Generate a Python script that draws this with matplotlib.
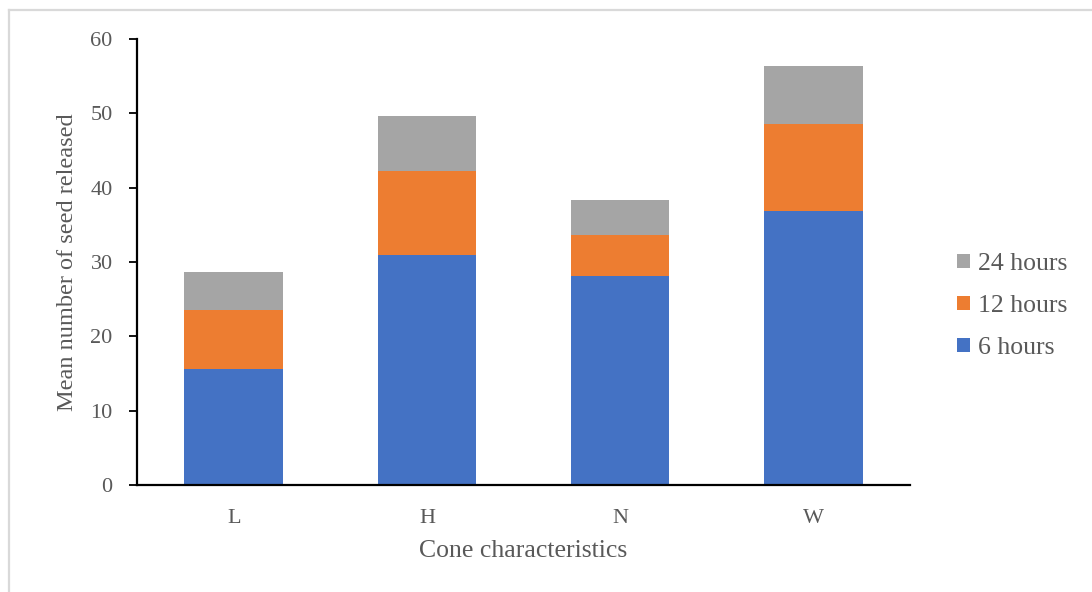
import matplotlib
matplotlib.use("Agg")
import matplotlib.pyplot as plt
from matplotlib.lines import Line2D

# Data: mean seed release per cone class, stacked by exposure time
categories = ["L", "H", "N", "W"]
hours_6 = [15.6, 30.9, 28.1, 36.9]
hours_12 = [7.9, 11.4, 5.5, 11.6]
hours_24 = [5.1, 7.4, 4.8, 7.9]
y_ticks = [0, 10, 20, 30, 40, 50, 60]

blue = "#4472C4"
orange = "#ED7D31"
gray = "#A5A5A5"
text_col = "#595959"

plt.rcParams["font.family"] = ["Liberation Serif", "DejaVu Serif"]

fig = plt.figure(figsize=(10.92, 5.92), dpi=100)
ax = fig.add_axes([137 / 1092, 1 - 485 / 592, 773 / 1092, 446 / 592])

x = list(range(len(categories)))
width = 0.51
bottom_12 = hours_6
bottom_24 = [a + b for a, b in zip(hours_6, hours_12)]

b6 = ax.bar(x, hours_6, width, color=blue, label="6 hours", zorder=2)
b12 = ax.bar(x, hours_12, width, bottom=bottom_12, color=orange, label="12 hours", zorder=2)
b24 = ax.bar(x, hours_24, width, bottom=bottom_24, color=gray, label="24 hours", zorder=2)

ax.set_xlim(-0.5, len(categories) - 0.5)
ax.set_ylim(0, 60)
ax.set_yticks(y_ticks)
ax.set_xticks(x)
ax.set_xticklabels(categories)

for side in ["top", "right"]:
    ax.spines[side].set_visible(False)
for side in ["left", "bottom"]:
    ax.spines[side].set_color("black")
    ax.spines[side].set_linewidth(1.6)

ax.tick_params(axis="y", direction="out", length=5.5, width=1.3, color="black",
               pad=12, labelsize=16, labelcolor=text_col)
ax.tick_params(axis="x", length=0, pad=17.5, labelsize=16, labelcolor=text_col)

ax.set_xlabel("Cone characteristics", fontsize=18.5, color=text_col)
ax.set_ylabel("Mean number of seed released", fontsize=17.5, color=text_col)
ax.xaxis.set_label_coords(0.5, -0.124)
ax.yaxis.set_label_coords(-0.076, 0.5)

# Legend listed top-down as 24, 12, 6 hours
leg = fig.legend([b24, b12, b6], ["24 hours", "12 hours", "6 hours"],
                 loc="center left", bbox_to_anchor=(957 / 1092, 1 - 306 / 592),
                 frameon=False, fontsize=18.5, handlelength=0.5, handleheight=0.5,
                 handletextpad=0.3, labelspacing=0.78, borderpad=0, borderaxespad=0)
for t in leg.get_texts():
    t.set_color(text_col)

# Light outer frame on the top and left edges
frame_col = "#D9D9D9"
fig.add_artist(Line2D([9 / 1092, 1], [1 - 9.5 / 592, 1 - 9.5 / 592],
                      transform=fig.transFigure, color=frame_col, linewidth=1.6))
fig.add_artist(Line2D([9 / 1092, 9 / 1092], [0, 1 - 9.5 / 592],
                      transform=fig.transFigure, color=frame_col, linewidth=1.6))

fig.savefig("out.png", dpi=100)
